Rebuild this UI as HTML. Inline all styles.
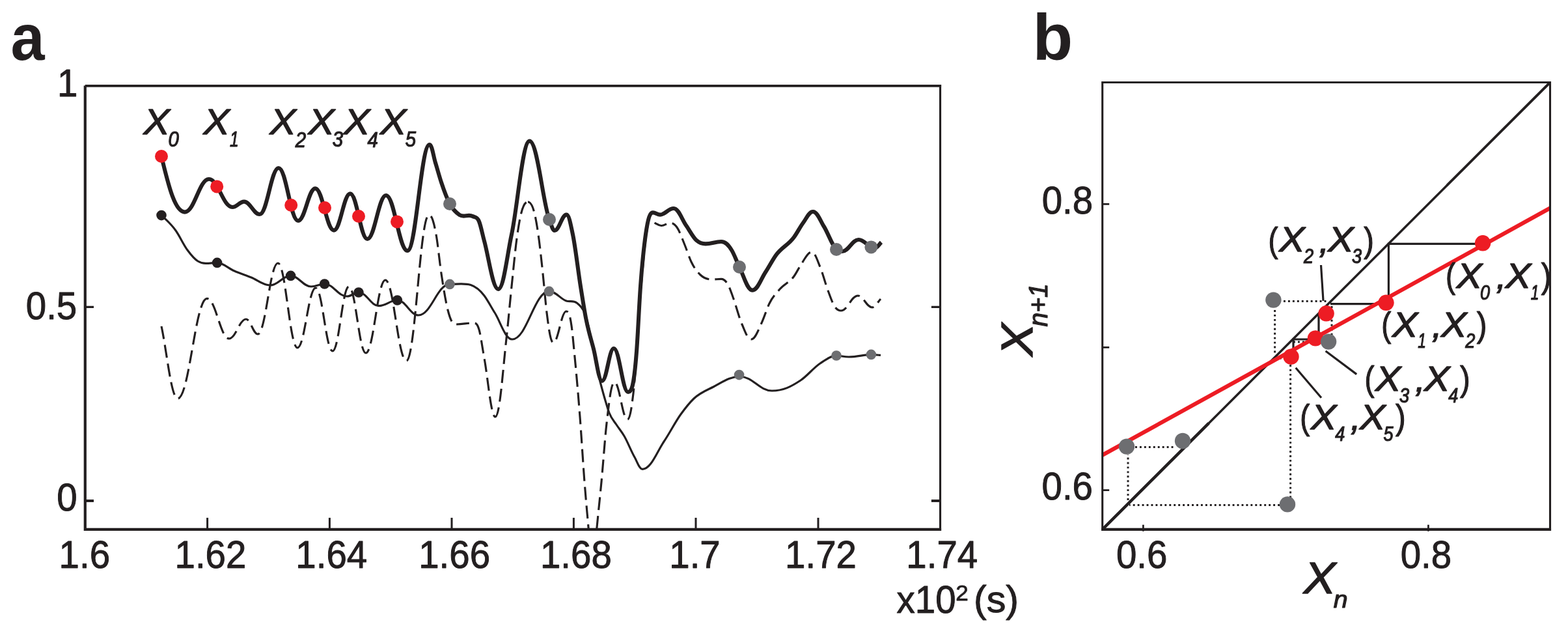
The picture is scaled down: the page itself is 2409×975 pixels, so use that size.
<!DOCTYPE html>
<html lang="en"><head><meta charset="utf-8"><title>Figure</title>
<style>html,body{margin:0;padding:0;background:#fff;overflow:hidden;}svg{display:block;}text{font-family:"Liberation Sans",sans-serif;fill:#231F20;stroke-linejoin:round;}.i{font-style:italic;}.b{font-weight:bold;}</style>
</head><body>
<svg width="2409" height="975" viewBox="0 0 2409 975" role="img" aria-label="Figure with panels a and b">
<rect width="2409" height="975" fill="#fff"/>
<defs><clipPath id="ca"><rect x="131.3" y="131.8" width="1313.1000000000001" height="679.9000000000001"/></clipPath></defs>
<g id="panel-a">
<g clip-path="url(#ca)" fill="none" stroke="#231F20" stroke-linecap="butt" stroke-linejoin="round">
<path d="M248.0,501.0C256.3,539.3 263.0,612.0 273.0,612.0C291.0,612.0 300.0,458.4 318.0,458.4C331.6,458.4 338.4,520.0 352.0,520.0C362.4,520.0 367.6,490.0 378.0,490.0C385.2,490.0 388.8,513.0 396.0,513.0C408.4,513.0 414.6,404.0 427.0,404.0C439.0,404.0 445.0,534.0 457.0,534.0C468.2,534.0 473.8,442.0 485.0,442.0C495.4,442.0 500.6,539.0 511.0,539.0C521.0,539.0 526.0,440.0 536.0,440.0C546.4,440.0 551.6,542.0 562.0,542.0C574.0,542.0 580.0,430.0 592.0,430.0C605.0,430.0 611.4,554.0 624.4,554.0C638.2,554.0 645.2,330.0 659.0,330.0C663.4,330.0 666.3,339.9 670.0,360.0C672.7,374.6 675.3,402.3 678.0,420.0C681.3,442.2 684.7,463.0 688.0,476.0C692.0,491.6 695.2,498.0 700.0,498.0C710.4,498.0 717.3,496.0 726.0,496.0C729.3,496.0 732.7,494.3 736.0,506.0C738.7,515.3 741.3,535.5 744.0,550.0C749.7,580.8 754.2,640.0 761.0,640.0C767.8,640.0 772.3,571.3 778.0,520.0C780.7,495.8 783.3,465.7 786.0,440.0C788.7,414.3 791.3,385.6 794.0,366.0C799.7,324.4 804.2,310.0 811.0,310.0" stroke-width="3.15" stroke-dasharray="20 9"/>
<path d="M811.0,310.0C817.4,310.0 821.7,323.1 827.0,360.0C829.3,376.1 831.7,398.2 834.0,420.0C836.0,438.7 838.0,464.1 840.0,480.0C843.3,506.6 846.0,526.0 850.0,526.0C858.0,526.0 862.0,478.0 870.0,478.0C873.2,478.0 875.3,481.4 878.0,500.0C879.7,511.6 881.3,530.8 883.0,548.0C885.7,575.5 888.3,605.4 891.0,640.0C893.3,670.3 895.7,710.0 898.0,740.0C900.1,766.6 902.1,788.0 904.2,812.0" stroke-width="3.15" stroke-dasharray="20 9" stroke-dashoffset="1.7"/>
<path d="M916.8,812.0C919.2,786.8 921.6,765.4 924.0,740.0C926.7,711.8 929.3,673.6 932.0,650.0C936.0,614.6 939.2,587.0 944.0,587.0C952.0,587.0 956.0,644.0 964.0,644.0C967.6,644.0 970.0,629.2 973.0,604.0C977.0,570.4 981.0,485.9 985.0,440.0C987.7,409.4 990.3,377.8 993.0,360.0C994.7,348.9 996.3,337.0 998.0,337.0C1001.0,337.0 1004.0,341.2 1007.0,342.8C1010.0,344.4 1012.4,346.5 1016.0,346.5C1021.6,346.5 1024.4,342.3 1030.0,342.3C1034.0,342.3 1036.7,344.4 1040.0,349.0C1044.0,354.6 1048.0,366.2 1052.0,376.0C1055.3,384.1 1058.7,395.0 1062.0,402.0C1066.7,411.9 1071.3,417.5 1076.0,422.0C1082.0,427.8 1088.0,429.0 1094.0,429.0C1098.7,429.0 1103.3,428.4 1108.0,428.4C1112.0,428.4 1116.0,431.6 1120.0,440.0C1122.0,444.2 1124.0,450.5 1126.0,456.0C1130.7,468.9 1135.3,487.2 1140.0,498.0C1144.7,508.8 1148.4,521.0 1154.0,521.0C1160.4,521.0 1164.7,507.2 1170.0,496.0C1174.0,487.6 1178.0,474.1 1182.0,466.0C1187.3,455.2 1192.7,450.3 1198.0,444.0C1205.3,435.4 1212.7,434.3 1220.0,424.0C1224.0,418.4 1228.0,409.7 1232.0,404.0C1237.0,396.9 1241.0,387.0 1247.0,387.0C1252.2,387.0 1255.7,399.6 1260.0,410.0C1264.0,419.6 1268.0,435.3 1272.0,446.0C1275.3,454.9 1278.7,464.8 1282.0,470.0C1285.3,475.2 1288.0,477.0 1292.0,477.0C1302.4,477.0 1307.6,454.0 1318.0,454.0C1326.8,454.0 1331.2,472.0 1340.0,472.0C1345.2,472.0 1348.7,463.3 1353.0,459.0" stroke-width="3.15" stroke-dasharray="20 9"/>
<path d="M248.0,330.6C255.3,337.2 262.7,343.8 270.0,354.0C276.0,362.4 282.0,375.9 288.0,384.0C293.3,391.2 298.7,397.7 304.0,401.0C308.0,403.5 311.2,404.4 316.0,404.4C323.0,404.4 327.7,403.4 333.6,403.4C342.4,403.4 351.2,412.2 360.0,416.0C368.7,419.7 377.3,422.5 386.0,426.0C395.7,429.9 403.4,438.0 415.0,438.0C427.6,438.0 434.0,423.4 446.6,423.4C459.2,423.4 465.4,440.0 478.0,440.0C486.2,440.0 490.4,436.0 498.6,436.0C512.4,436.0 519.2,455.0 533.0,455.0C540.2,455.0 543.8,449.0 551.0,449.0C563.4,449.0 569.6,469.6 582.0,469.6C593.4,469.6 599.0,461.0 610.4,461.0C623.4,461.0 630.0,484.0 643.0,484.0C662.2,484.0 671.8,436.4 691.0,436.4C712.2,436.4 726.3,430.6 744.0,454.0C749.3,461.1 754.7,471.5 760.0,480.0C769.0,494.3 776.2,521.0 787.0,521.0C809.6,521.0 821.0,447.4 843.6,447.4C854.2,447.4 861.2,459.1 870.0,462.0C875.3,463.7 880.7,460.8 886.0,465.0C890.0,468.2 894.0,470.8 898.0,480.0C906.0,498.4 914.0,555.4 922.0,586.0C924.7,596.2 927.3,606.0 930.0,615.0C932.0,621.7 934.0,628.7 936.0,634.0C939.7,643.6 943.3,646.3 947.0,652.0C951.0,658.2 955.0,662.7 959.0,669.5C964.3,678.6 969.7,692.7 975.0,702.0C979.0,709.0 982.2,720.3 987.0,720.3C1000.2,720.3 1009.0,694.2 1020.0,678.0C1028.7,665.3 1037.3,648.0 1046.0,636.0C1052.7,626.8 1059.3,618.4 1066.0,612.0C1076.0,602.4 1086.0,599.1 1096.0,594.0C1109.7,587.0 1120.6,578.2 1137.0,578.2C1156.6,578.2 1166.4,600.0 1186.0,600.0C1203.6,600.0 1215.3,593.7 1230.0,584.0C1240.0,577.4 1250.0,564.6 1260.0,558.0C1268.3,552.5 1276.7,546.0 1285.0,546.0C1291.3,546.0 1296.4,548.0 1304.0,548.0C1317.8,548.0 1326.9,544.4 1338.4,544.4C1343.3,544.4 1348.1,545.1 1353.0,545.4" stroke-width="3.15"/>
<path d="M248.0,240.0C260.0,290.4 269.6,325.6 284.0,325.6C298.8,325.6 306.2,275.0 321.0,275.0C335.4,275.0 342.6,318.0 357.0,318.0C364.2,318.0 367.8,309.6 375.0,309.6C384.6,309.6 389.4,329.0 399.0,329.0C410.6,329.0 416.4,258.0 428.0,258.0C440.0,258.0 446.0,339.0 458.0,339.0C468.6,339.0 473.8,289.4 484.4,289.4C495.8,289.4 501.6,353.6 513.0,353.6C523.0,353.6 528.0,297.4 538.0,297.4C548.6,297.4 553.8,367.0 564.4,367.0C575.8,367.0 581.6,300.0 593.0,300.0C606.2,300.0 612.8,385.0 626.0,385.0C639.6,385.0 646.4,222.0 660.0,222.0C663.6,222.0 666.0,240.3 669.0,250.0C672.0,259.7 675.0,271.0 678.0,280.0C682.3,293.0 686.7,304.8 691.0,313.0C696.0,322.4 701.0,326.5 706.0,330.0C712.7,334.6 719.3,328.2 726.0,332.0C729.3,333.9 732.7,331.9 736.0,340.0C738.7,346.5 741.3,360.2 744.0,370.0C751.2,396.4 757.0,444.0 765.6,444.0C773.8,444.0 779.2,391.1 786.0,360.0C795.2,317.9 802.6,216.6 813.6,216.6C825.8,216.6 833.9,311.6 844.0,337.0C846.7,343.7 848.8,354.0 852.0,354.0C859.4,354.0 863.0,329.6 870.4,329.6C874.2,329.6 876.8,344.9 880.0,360.0C884.0,378.9 888.0,414.9 892.0,440.0C894.7,456.7 897.3,474.1 900.0,488.0C904.0,508.8 908.0,520.4 912.0,536.0C916.3,552.9 919.8,585.0 925.0,585.0C932.2,585.0 935.8,535.0 943.0,535.0C951.8,535.0 956.2,602.0 965.0,602.0C970.2,602.0 973.7,595.9 978.0,540.0C980.0,514.2 982.0,467.6 984.0,440.0C986.7,403.2 989.3,378.9 992.0,360.0C995.7,334.1 998.6,326.4 1003.0,326.4C1007.4,326.4 1009.6,329.6 1014.0,329.6C1022.4,329.6 1026.6,320.0 1035.0,320.0C1042.6,320.0 1047.7,337.1 1054.0,346.0C1059.3,353.5 1064.7,364.3 1070.0,369.0C1074.7,373.1 1078.4,374.4 1084.0,374.4C1093.6,374.4 1098.4,371.0 1108.0,371.0C1114.4,371.0 1118.7,375.5 1124.0,384.0C1128.0,390.3 1132.0,401.9 1136.0,410.0C1142.7,423.5 1148.0,445.6 1156.0,445.6C1164.0,445.6 1169.3,428.1 1176.0,418.0C1181.3,409.9 1186.7,399.5 1192.0,392.0C1201.3,379.0 1210.7,376.9 1220.0,364.0C1224.7,357.6 1229.3,348.3 1234.0,342.0C1239.0,335.2 1243.0,325.0 1249.0,325.0C1255.8,325.0 1260.3,339.0 1266.0,348.0C1272.3,358.0 1278.7,377.8 1285.0,383.0C1288.0,385.5 1290.4,386.0 1294.0,386.0C1304.0,386.0 1309.0,368.0 1319.0,368.0C1329.0,368.0 1334.0,381.0 1344.0,381.0C1348.0,381.0 1350.7,375.0 1354.0,372.0" stroke-width="6.1"/>
</g>
<g fill="none" stroke="#231F20"><path d="M130.8,131.6V812.9H1446.1" stroke-width="4.2" stroke-linejoin="miter"/><path d="M130.7,131.9H1446.1" stroke-width="3.9"/><path d="M1444.55,129.95V815" stroke-width="3.1"/></g>
<path d="M318.6,812.7V794.9000000000001M506.4,812.7V794.9000000000001M694.0,812.7V794.9000000000001M881.4,812.7V794.9000000000001M1069.0,812.7V794.9000000000001M1257.0,812.7V794.9000000000001" fill="none" stroke="#231F20" stroke-width="3"/>
<path d="M130.8,471.45H144M1444.5,471.45H1430.9" fill="none" stroke="#231F20" stroke-width="3.2"/>
<path d="M130.8,768.9H144M1444.5,768.9H1430.9" fill="none" stroke="#231F20" stroke-width="4"/>
<circle cx="248" cy="330.6" r="7.8" fill="#231F20"/>
<circle cx="333.6" cy="403.4" r="7.8" fill="#231F20"/>
<circle cx="446.6" cy="423.4" r="7.8" fill="#231F20"/>
<circle cx="498.6" cy="436" r="7.8" fill="#231F20"/>
<circle cx="551" cy="449" r="7.8" fill="#231F20"/>
<circle cx="610.4" cy="461" r="7.8" fill="#231F20"/>
<circle cx="691" cy="436.4" r="7.8" fill="#6D6E71"/>
<circle cx="843.6" cy="447.4" r="7.8" fill="#6D6E71"/>
<circle cx="1135.6" cy="575.6" r="7.8" fill="#6D6E71"/>
<circle cx="1285" cy="546" r="7.8" fill="#6D6E71"/>
<circle cx="1338.4" cy="544.4" r="7.8" fill="#6D6E71"/>
<circle cx="248" cy="240" r="10" fill="#ED1C24"/>
<circle cx="333.2" cy="286.4" r="10" fill="#ED1C24"/>
<circle cx="447.2" cy="315" r="10" fill="#ED1C24"/>
<circle cx="499" cy="319" r="10" fill="#ED1C24"/>
<circle cx="551" cy="332" r="10" fill="#ED1C24"/>
<circle cx="610" cy="340.4" r="10" fill="#ED1C24"/>
<circle cx="691" cy="313" r="10" fill="#6D6E71"/>
<circle cx="844" cy="337" r="10" fill="#6D6E71"/>
<circle cx="1136" cy="410" r="10" fill="#6D6E71"/>
<circle cx="1285" cy="383" r="10" fill="#6D6E71"/>
<circle cx="1338.4" cy="379.4" r="10" fill="#6D6E71"/>
<text class="b" transform="translate(16.59 92.00) scale(0.936 1)" font-size="100.00">a</text>
<text transform="translate(87.98 148.40) scale(0.957 1)" font-size="59.00" stroke="#231F20" stroke-width="1">1</text>
<text transform="translate(39.76 490.31) scale(0.957 1)" font-size="59.00" stroke="#231F20" stroke-width="1">0.5</text>
<text transform="translate(87.13 783.91) scale(0.957 1)" font-size="59.00" stroke="#231F20" stroke-width="1">0</text>
<text transform="translate(90.56 871.50) scale(0.957 1)" font-size="59.00" stroke="#231F20" stroke-width="1">1.6</text>
<text transform="translate(268.50 871.50) scale(0.957 1)" font-size="59.00" stroke="#231F20" stroke-width="1">1.62</text>
<text transform="translate(454.37 871.50) scale(0.957 1)" font-size="59.00" stroke="#231F20" stroke-width="1">1.64</text>
<text transform="translate(643.22 871.50) scale(0.957 1)" font-size="59.00" stroke="#231F20" stroke-width="1">1.66</text>
<text transform="translate(829.94 871.50) scale(0.957 1)" font-size="59.00" stroke="#231F20" stroke-width="1">1.68</text>
<text transform="translate(1028.24 871.50) scale(0.957 1)" font-size="59.00" stroke="#231F20" stroke-width="1">1.7</text>
<text transform="translate(1206.10 871.50) scale(0.957 1)" font-size="59.00" stroke="#231F20" stroke-width="1">1.72</text>
<text transform="translate(1392.37 871.50) scale(0.957 1)" font-size="59.00" stroke="#231F20" stroke-width="1">1.74</text>
<text transform="translate(1377.57 940.51) scale(0.957 1)" font-size="59.00" stroke="#231F20" stroke-width="1">x10</text>
<text transform="translate(1468.24 922.00) scale(1.043 1)" font-size="33.71" stroke="#231F20" stroke-width="0.8">2</text>
<text transform="translate(1495.94 939.91) scale(1.039 1)" font-size="57.11" stroke="#231F20" stroke-width="1">(s)</text>
<text class="i" transform="translate(220.60 206.40) scale(1.075 1)" font-size="56.09" stroke="#231F20" stroke-width="1.4">X</text>
<text class="i" transform="translate(258.48 225.17) scale(0.880 1)" font-size="33.40" stroke="#231F20" stroke-width="1.2">0</text>
<text class="i" transform="translate(312.60 206.40) scale(1.075 1)" font-size="56.09" stroke="#231F20" stroke-width="1.4">X</text>
<text class="i" transform="translate(352.98 224.80) scale(0.740 1)" font-size="33.40" stroke="#231F20" stroke-width="1.2">1</text>
<text class="i" transform="translate(414.60 206.40) scale(1.075 1)" font-size="56.09" stroke="#231F20" stroke-width="1.4">X</text>
<text class="i" transform="translate(453.75 225.50) scale(0.880 1)" font-size="33.40" stroke="#231F20" stroke-width="1.2">2</text>
<text class="i" transform="translate(473.60 206.40) scale(1.075 1)" font-size="56.09" stroke="#231F20" stroke-width="1.4">X</text>
<text class="i" transform="translate(510.87 225.17) scale(0.880 1)" font-size="33.40" stroke="#231F20" stroke-width="1.2">3</text>
<text class="i" transform="translate(527.90 206.40) scale(1.075 1)" font-size="56.09" stroke="#231F20" stroke-width="1.4">X</text>
<text class="i" transform="translate(564.45 225.50) scale(0.880 1)" font-size="33.40" stroke="#231F20" stroke-width="1.2">4</text>
<text class="i" transform="translate(584.10 206.40) scale(1.075 1)" font-size="56.09" stroke="#231F20" stroke-width="1.4">X</text>
<text class="i" transform="translate(622.87 225.17) scale(0.880 1)" font-size="33.40" stroke="#231F20" stroke-width="1.2">5</text>
</g>
<g id="panel-b">
<g fill="none" stroke="#231F20">
<path d="M1693.7,812.8L1857,649.9" stroke-width="4.6"/>
<path d="M1856,650.9L2223.5,284.2" stroke-width="3.5"/>
<path d="M2223,284.7L2381.5,126.5" stroke-width="3.9"/>
<path d="M2278,374.3H2133.4V466.7H2044 M2026,482V521 M2021,521H1987V538" stroke-width="3.2"/>
<path d="M1972,462.4H2040 M1958.6,476V544 M1959,550H1972 M2046,470V516 M1987,525H2012 M1982.6,560V764 M1966,775.6H1735 M1733,768V698 M1744,686.4H1806" stroke-width="3" stroke-dasharray="2.9 4.05"/>
<path d="M2029.5,407L2033,462 M2036.6,539L2084.2,574.6 M1990.7,564.8L2030,610.7" stroke-width="3.2"/>
</g>
<path d="M1693.7,698.8L2381.5,319.5" fill="none" stroke="#ED1C24" stroke-width="6.2"/>
<g fill="none" stroke="#231F20"><path d="M1693.7,815V126.5H2381.5V815" stroke-width="3.1" stroke-linejoin="miter"/><path d="M1692.15,812.9H2383.05" stroke-width="4.2"/></g>
<path d="M1693.7,313.4h10.5M1693.7,533.3h10.5M1693.7,752.6h10.5M1756.4,815.8v-10M2194.4,815.8v-10" fill="none" stroke="#231F20" stroke-width="2.7"/>
<circle cx="2278.1" cy="373.3" r="12.2" fill="#ED1C24"/>
<circle cx="2129.5" cy="464.8" r="12.2" fill="#ED1C24"/>
<circle cx="2037.6" cy="481.3" r="12.2" fill="#ED1C24"/>
<circle cx="2021" cy="519.4" r="12.2" fill="#ED1C24"/>
<circle cx="1983.5" cy="547.7" r="12.2" fill="#ED1C24"/>
<circle cx="1956.4" cy="460.6" r="12.2" fill="#6D6E71"/>
<circle cx="2041.1" cy="524.6" r="12.2" fill="#6D6E71"/>
<circle cx="1731" cy="685.6" r="12.2" fill="#6D6E71"/>
<circle cx="1817" cy="677" r="12.2" fill="#6D6E71"/>
<circle cx="1978" cy="774.4" r="12.2" fill="#6D6E71"/>
<text class="b" transform="translate(1586.44 91.99) scale(1.003 1)" font-size="100.68">b</text>
<text transform="translate(1600.70 327.91) scale(0.957 1)" font-size="59.00" stroke="#231F20" stroke-width="1">0.8</text>
<text transform="translate(1600.50 767.31) scale(0.957 1)" font-size="59.00" stroke="#231F20" stroke-width="1">0.6</text>
<text transform="translate(1714.90 871.50) scale(0.957 1)" font-size="59.00" stroke="#231F20" stroke-width="1">0.6</text>
<text transform="translate(2151.70 871.50) scale(0.957 1)" font-size="59.00" stroke="#231F20" stroke-width="1">0.8</text>
<text transform="translate(1948.58 386.50) scale(0.857 1)" font-size="52.83" stroke="#231F20" stroke-width="1.2">(</text>
<text class="i" transform="translate(1965.28 386.40) scale(1.104 1)" font-size="53.19" stroke="#231F20" stroke-width="1.4">X</text>
<text class="i" transform="translate(2002.94 404.30) scale(0.880 1)" font-size="30.80" stroke="#231F20" stroke-width="1.2">2</text>
<text class="i" transform="translate(2026.14 387.55) scale(1.056 1)" font-size="54.78" stroke="#231F20" stroke-width="1.2">,</text>
<text class="i" transform="translate(2040.28 386.40) scale(1.107 1)" font-size="53.19" stroke="#231F20" stroke-width="1.4">X</text>
<text class="i" transform="translate(2076.92 403.99) scale(0.880 1)" font-size="30.80" stroke="#231F20" stroke-width="1.2">3</text>
<text transform="translate(2095.23 386.50) scale(0.888 1)" font-size="52.83" stroke="#231F20" stroke-width="1.2">)</text>
<text transform="translate(2220.98 442.20) scale(0.857 1)" font-size="52.83" stroke="#231F20" stroke-width="1.2">(</text>
<text class="i" transform="translate(2237.68 442.10) scale(1.104 1)" font-size="53.19" stroke="#231F20" stroke-width="1.4">X</text>
<text class="i" transform="translate(2273.98 459.69) scale(0.880 1)" font-size="30.80" stroke="#231F20" stroke-width="1.2">0</text>
<text class="i" transform="translate(2298.54 443.25) scale(1.056 1)" font-size="54.78" stroke="#231F20" stroke-width="1.2">,</text>
<text class="i" transform="translate(2312.68 442.10) scale(1.107 1)" font-size="53.19" stroke="#231F20" stroke-width="1.4">X</text>
<text class="i" transform="translate(2351.83 460.00) scale(0.740 1)" font-size="30.80" stroke="#231F20" stroke-width="1.2">1</text>
<text transform="translate(2367.63 442.20) scale(0.888 1)" font-size="52.83" stroke="#231F20" stroke-width="1.2">)</text>
<text transform="translate(2122.18 516.60) scale(0.857 1)" font-size="52.83" stroke="#231F20" stroke-width="1.2">(</text>
<text class="i" transform="translate(2138.88 516.50) scale(1.104 1)" font-size="53.19" stroke="#231F20" stroke-width="1.4">X</text>
<text class="i" transform="translate(2178.23 534.40) scale(0.740 1)" font-size="30.80" stroke="#231F20" stroke-width="1.2">1</text>
<text class="i" transform="translate(2199.74 517.65) scale(1.056 1)" font-size="54.78" stroke="#231F20" stroke-width="1.2">,</text>
<text class="i" transform="translate(2213.88 516.50) scale(1.107 1)" font-size="53.19" stroke="#231F20" stroke-width="1.4">X</text>
<text class="i" transform="translate(2251.34 534.40) scale(0.880 1)" font-size="30.80" stroke="#231F20" stroke-width="1.2">2</text>
<text transform="translate(2268.83 516.60) scale(0.888 1)" font-size="52.83" stroke="#231F20" stroke-width="1.2">)</text>
<text transform="translate(2096.38 600.30) scale(0.857 1)" font-size="52.83" stroke="#231F20" stroke-width="1.2">(</text>
<text class="i" transform="translate(2113.08 600.20) scale(1.104 1)" font-size="53.19" stroke="#231F20" stroke-width="1.4">X</text>
<text class="i" transform="translate(2149.92 617.79) scale(0.880 1)" font-size="30.80" stroke="#231F20" stroke-width="1.2">3</text>
<text class="i" transform="translate(2173.94 601.35) scale(1.056 1)" font-size="54.78" stroke="#231F20" stroke-width="1.2">,</text>
<text class="i" transform="translate(2188.08 600.20) scale(1.107 1)" font-size="53.19" stroke="#231F20" stroke-width="1.4">X</text>
<text class="i" transform="translate(2225.26 618.10) scale(0.880 1)" font-size="30.80" stroke="#231F20" stroke-width="1.2">4</text>
<text transform="translate(2243.03 600.30) scale(0.888 1)" font-size="52.83" stroke="#231F20" stroke-width="1.2">)</text>
<text transform="translate(1997.28 659.40) scale(0.857 1)" font-size="52.83" stroke="#231F20" stroke-width="1.2">(</text>
<text class="i" transform="translate(2013.98 659.30) scale(1.104 1)" font-size="53.19" stroke="#231F20" stroke-width="1.4">X</text>
<text class="i" transform="translate(2051.36 677.20) scale(0.880 1)" font-size="30.80" stroke="#231F20" stroke-width="1.2">4</text>
<text class="i" transform="translate(2074.84 660.45) scale(1.056 1)" font-size="54.78" stroke="#231F20" stroke-width="1.2">,</text>
<text class="i" transform="translate(2088.98 659.30) scale(1.107 1)" font-size="53.19" stroke="#231F20" stroke-width="1.4">X</text>
<text class="i" transform="translate(2125.62 676.89) scale(0.880 1)" font-size="30.80" stroke="#231F20" stroke-width="1.2">5</text>
<text transform="translate(2143.93 659.40) scale(0.888 1)" font-size="52.83" stroke="#231F20" stroke-width="1.2">)</text>
<text class="i" transform="translate(2002.86 911.25) scale(1.074 1)" font-size="68.84" stroke="#231F20" stroke-width="1.5">X</text>
<text class="i" transform="translate(2048.82 933.40) scale(1.059 1)" font-size="37.01" stroke="#231F20" stroke-width="1.2">n</text>
<g transform="rotate(-90)">
<text class="i" transform="translate(-547.12 1586.25) scale(1.095 1)" font-size="68.84" stroke="#231F20" stroke-width="1.5">X</text>
<text class="i" transform="translate(-501.48 1608.70) scale(0.959 1)" font-size="40.72" stroke="#231F20" stroke-width="1.2">n+1</text>
</g>
</g>
</svg>
</body></html>
